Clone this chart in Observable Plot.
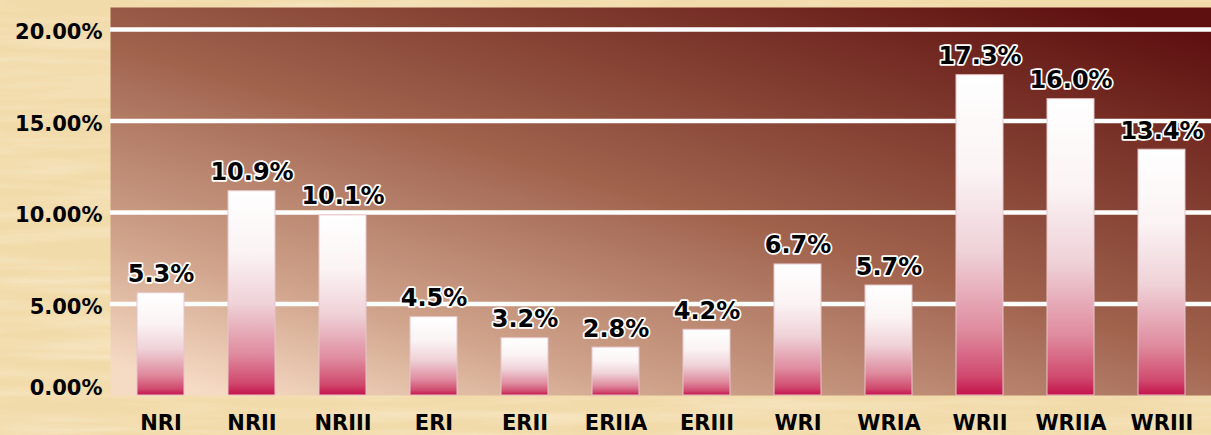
<!DOCTYPE html>
<html><head><meta charset="utf-8">
<script src="https://cdn.jsdelivr.net/npm/d3@7"></script>
<script src="https://cdn.jsdelivr.net/npm/@observablehq/plot@0.6"></script>
<style>
html,body{margin:0;padding:0;background:#f3dcae;}
#chart svg{display:block}
</style></head><body><div id="chart"></div>
<script>
const categories = ["NRI","NRII","NRIII","ERI","ERII","ERIIA","ERIII","WRI","WRIA","WRII","WRIIA","WRIII"];
const barHeights = [5.59, 11.16, 9.84, 4.28, 3.13, 2.62, 3.59, 7.16, 6.01, 17.5, 16.19, 13.43];
const labelTexts = ["5.3%","10.9%","10.1%","4.5%","3.2%","2.8%","4.2%","6.7%","5.7%","17.3%","16.0%","13.4%"];
const yTicks = [0, 5, 10, 15, 20];

const data = categories.map((c, i) => ({category: c, value: barHeights[i], label: labelTexts[i]}));
const fmt = d => d.toFixed(2) + "%";

const chart = Plot.plot({
  width: 1211, height: 435,
  marginLeft: 110, marginRight: 0, marginTop: 7, marginBottom: 40,
  style: {background: "transparent", fontFamily: "'DejaVu Sans', sans-serif", color: "black", overflow: "visible"},
  x: {domain: categories, paddingInner: 0.485, paddingOuter: 0.274, label: null},
  y: {domain: [0, 21.2], label: null},
  marks: [
    Plot.frame({fill: "url(#plotBg)", stroke: "none"}),
    Plot.ruleY(yTicks.filter(d => d > 0), {stroke: "white", strokeWidth: 4.5}),
    Plot.barY(data, {x: "category", y: "value", fill: "url(#barGrad)", stroke: "#e6c6cb", strokeWidth: 1}),
    Plot.text(data, {x: "category", y: "value", text: "label", dy: -11, lineAnchor: "bottom",
      fill: "black", stroke: "white", strokeWidth: 3.5, paintOrder: "stroke", fontSize: 24, fontWeight: "bold"}),
    Plot.axisY({ticks: yTicks.filter(d => d > 0), tickFormat: fmt, tickSize: 0, tickPadding: 8,
      fontSize: 21, fontWeight: "bold", dy: 3, label: null}),
    Plot.axisY({ticks: [yTicks[0]], tickFormat: fmt, tickSize: 0, tickPadding: 8,
      fontSize: 21, fontWeight: "bold", dy: -7, label: null}),
    Plot.axisX({tickSize: 0, tickPadding: 20, fontSize: 21, fontWeight: "bold", label: null})
  ]
});

const svg = d3.select(chart);
const defs = svg.insert("defs", ":first-child");
const bg = defs.append("linearGradient").attr("id", "plotBg")
  .attr("x1", 0.1).attr("y1", 1).attr("x2", 0.9).attr("y2", 0);
[[0, "#f6dbc4"], [0.2, "#d0a38b"], [0.44, "#aa715c"], [0.5, "#a2634d"], [0.56, "#985a46"], [0.8, "#793228"], [1, "#5e1010"]]
  .forEach(([o, c]) => bg.append("stop").attr("offset", o).attr("stop-color", c));
const bar = defs.append("linearGradient").attr("id", "barGrad")
  .attr("x1", 0).attr("y1", 0).attr("x2", 0).attr("y2", 1);
[[0, "#ffffff"], [0.3, "#fbf3f4"], [0.55, "#efd2d8"], [0.8, "#df8b9e"], [0.94, "#d04a6e"], [1, "#c4124b"]]
  .forEach(([o, c]) => bar.append("stop").attr("offset", o).attr("stop-color", c));
const flt = defs.append("filter").attr("id", "parch").attr("x", 0).attr("y", 0).attr("width", 1).attr("height", 1);
flt.append("feTurbulence").attr("type", "fractalNoise").attr("baseFrequency", "0.006 0.09").attr("numOctaves", 3).attr("seed", 4);
flt.append("feColorMatrix").attr("type", "matrix")
  .attr("values", "0 0 0 0 1  0 0 0 0 0.96  0 0 0 0 0.85  0 0 0 1.1 -0.45");
svg.insert("rect", "defs + *").attr("width", 1211).attr("height", 435).attr("fill", "#f2dbab");
svg.insert("rect", "defs + rect + *").attr("width", 1211).attr("height", 435).attr("filter", "url(#parch)").attr("opacity", 0.6);

document.getElementById("chart").appendChild(chart);
</script>
</body></html>
